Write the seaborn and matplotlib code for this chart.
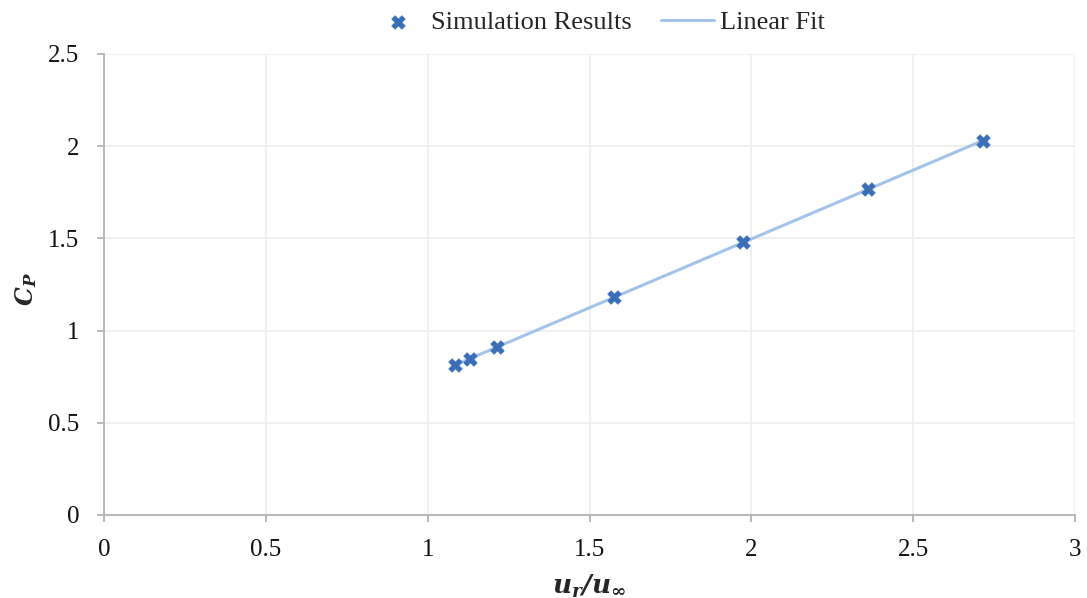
import numpy as np
import pandas as pd
import seaborn as sns
import matplotlib
matplotlib.use("Agg")
import matplotlib.pyplot as plt

# Data
ur_ratio = [1.084, 1.131, 1.214, 1.576, 1.974, 2.360, 2.716]
cp_values = [0.813, 0.846, 0.911, 1.182, 1.480, 1.768, 2.028]
x_ticks = [0, 0.5, 1, 1.5, 2, 2.5, 3]
y_ticks = [0, 0.5, 1, 1.5, 2, 2.5]
x_tick_labels = ["0", "0.5", "1", "1.5", "2", "2.5", "3"]
y_tick_labels = ["0", "0.5", "1", "1.5", "2", "2.5"]

sns.set_theme(style="white")
plt.rcParams['font.family'] = ['Liberation Serif', 'DejaVu Serif']
plt.rcParams['mathtext.fontset'] = 'dejavuserif'

df = pd.DataFrame({"x": ur_ratio, "y": cp_values})
slope, intercept = np.polyfit(df["x"], df["y"], 1)
fit_x = np.array([df["x"].min(), df["x"].max()])
fit_df = pd.DataFrame({"x": fit_x, "y": slope * fit_x + intercept})

fig = plt.figure(figsize=(10.87, 5.98), dpi=100)
ax = fig.add_axes([0.0957, 0.1388, 0.8933, 0.7709])

sns.lineplot(data=fit_df, x="x", y="y", ax=ax, color="#a3c4e8", linewidth=2.2,
             label="Linear Fit", zorder=2)
sns.scatterplot(data=df, x="x", y="y", ax=ax, marker="X", s=95, color="#3a6fb8",
                edgecolor="#3a6fb8", linewidth=0.5, label="Simulation Results", zorder=3)

ax.set_xlim(0, 3)
ax.set_ylim(0, 2.5)
ax.set_xticks(x_ticks)
ax.set_xticklabels(x_tick_labels)
ax.set_yticks(y_ticks)
ax.set_yticklabels(y_tick_labels)
ax.grid(True, color="#efefef", linewidth=1.3)
ax.set_axisbelow(True)

for s in ["top", "right"]:
    ax.spines[s].set_visible(False)
for s in ["left", "bottom"]:
    ax.spines[s].set_color("#b3b3b3")
    ax.spines[s].set_linewidth(1.3)
ax.tick_params(axis="both", which="major", direction="out", length=5, width=1.3,
               color="#b3b3b3", labelsize=18, labelcolor="#111111",
               bottom=True, left=True)
ax.tick_params(axis="x", pad=12)
ax.tick_params(axis="y", pad=13)

ax.set_xlabel(r"$\mathbfit{u_r/u_\infty}$", fontsize=19)
ax.set_ylabel(r"$\mathbfit{C_P}$", fontsize=17)
ax.xaxis.set_label_coords(0.5, -0.155)
ax.xaxis.label.set_va("center")
ax.yaxis.set_label_coords(-0.0803, 0.49)
ax.yaxis.label.set_va("center")

handles, labels = ax.get_legend_handles_labels()
order = [labels.index("Simulation Results"), labels.index("Linear Fit")]
leg = ax.legend([handles[i] for i in order], [labels[i] for i in order],
                loc="center", bbox_to_anchor=(0.509, 1.0694), ncol=2, frameon=False,
                fontsize=19, handlelength=2.0, columnspacing=1.1, handletextpad=0.25,
                borderaxespad=0.0, borderpad=0.0)

fig.savefig("out.png", dpi=100)
